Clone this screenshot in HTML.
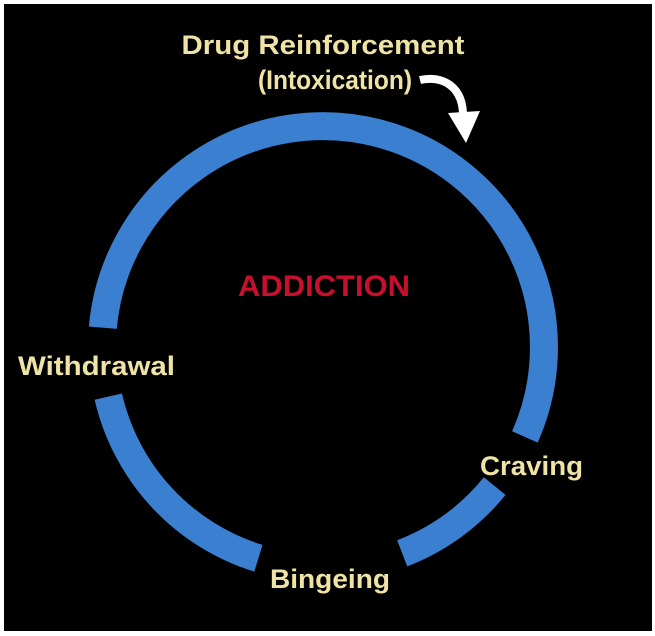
<!DOCTYPE html>
<html><head><meta charset="utf-8"><style>
html,body{margin:0;padding:0;background:#fff;}
svg{display:block;}
text{font-family:"Liberation Sans",sans-serif;font-weight:bold;}
</style></head><body>
<svg width="655" height="636" viewBox="0 0 655 636" xmlns="http://www.w3.org/2000/svg">
<rect x="4" y="4" width="648" height="627" fill="#000"/>
<g fill="none" stroke="#3a7fd0" stroke-width="28">
<path d="M 102.8 327.7 A 221 221 0 1 1 524.9 436.9"/>
<path d="M 494.7 486.1 A 221 221 0 0 1 402.2 553.3"/>
<path d="M 258.4 558.3 A 221 221 0 0 1 108.3 396.6"/>
</g>
<path d="M 420 80 C 442 75, 464 86, 463 118" fill="none" stroke="#fff" stroke-width="8"/>
<polygon points="448,113 480,111 466,143" fill="#fff"/>
<g fill="#efe4a6" font-size="27">
<text x="323" y="54" text-anchor="middle" textLength="283" lengthAdjust="spacingAndGlyphs">Drug Reinforcement</text>
<text x="335" y="89" text-anchor="middle" textLength="154" lengthAdjust="spacingAndGlyphs">(Intoxication)</text>
<text x="18" y="375" textLength="157" lengthAdjust="spacingAndGlyphs">Withdrawal</text>
<text x="480" y="475" textLength="103" lengthAdjust="spacingAndGlyphs">Craving</text>
<text x="270" y="588" textLength="120" lengthAdjust="spacingAndGlyphs">Bingeing</text>
</g>
<text x="324" y="296" text-anchor="middle" font-size="30" fill="#c8102e" textLength="172" lengthAdjust="spacingAndGlyphs">ADDICTION</text>
</svg>
</body></html>
